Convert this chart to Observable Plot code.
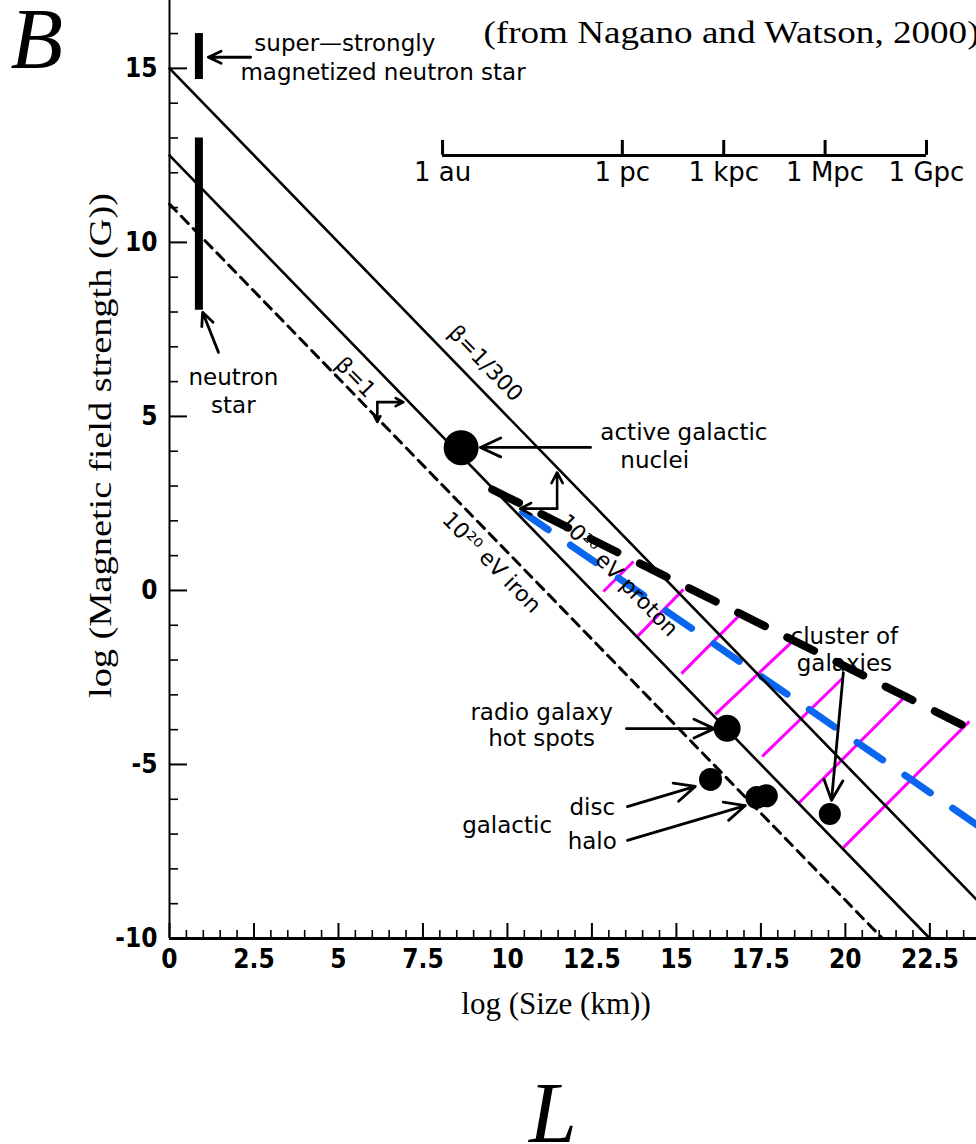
<!DOCTYPE html>
<html>
<head>
<meta charset="utf-8">
<script src="https://cdn.jsdelivr.net/npm/d3@7"></script>
<script src="https://cdn.jsdelivr.net/npm/@observablehq/plot@0.6"></script>
<style>
  html, body { margin: 0; padding: 0; background: #fff; }
  #chart svg { display: block; }
</style>
</head>
<body>
<div id="chart"></div>
<script>
// ---------- Axis ticks ----------
const xTickLabels = [0, 2.5, 5, 7.5, 10, 12.5, 15, 17.5, 20, 22.5];
const xMinorTicks = [0.5, 1, 1.5, 2, 3, 3.5, 4, 4.5, 5.5, 6, 6.5, 7, 8, 8.5, 9, 9.5, 10.5, 11, 11.5, 12,
  13, 13.5, 14, 14.5, 15.5, 16, 16.5, 17, 18, 18.5, 19, 19.5, 20.5, 21, 21.5, 22, 23, 23.5];
const yTickLabels = [-10, -5, 0, 5, 10, 15];
const yMinorTicks = [-9, -8, -7, -6, -4, -3, -2, -1, 1, 2, 3, 4, 6, 7, 8, 9, 11, 12, 13, 14, 16];

// ---------- Hillas boundary lines (endpoints) ----------
const upperSolidX = [0, 23.88];   // beta = 1/300, 1e20 eV proton
const upperSolidY = [15, -8.88];
const lowerSolidX = [0, 22.5];    // beta = 1, 1e20 eV proton
const lowerSolidY = [12.5, -10];
const ironDashX = [0, 21.1];      // beta = 1, 1e20 eV iron
const ironDashY = [11.1, -10];
const blackDashX = [9.55, 23.9];
const blackDashY = [2.9, -4.08];
const blueDashX = [10.45, 23.9];
const blueDashY = [2.25, -6.74];

// ---------- Magenta hatch segments ----------
const hatchX1 = [12.84, 13.85, 15.15, 16.15, 17.54, 18.61, 19.94];
const hatchY1 = [-0.03, -1.32, -2.39, -3.56, -4.77, -6.12, -7.39];
const hatchX2 = [13.73, 15.21, 16.98, 18.46, 19.91, 21.86, 23.67];
const hatchY2 = [0.83, 0.03, -0.60, -1.44, -2.53, -2.96, -3.76];

// ---------- Astrophysical objects ----------
const objNames = ["agn", "hotspot", "disc", "halo", "halo", "cluster"];
const objX = [8.63, 16.50, 16.01, 17.38, 17.66, 19.54];
const objY = [4.10, -3.96, -5.43, -5.95, -5.90, -6.42];

// Neutron star ranges (vertical bars)
const nsNames = ["neutron star", "super-strongly magnetized neutron star"];
const nsX = [0.87, 0.87];
const nsY1 = [8.05, 14.68];
const nsY2 = [13.0, 16.0];

// ---------- Pointer arrows ----------
const arrowX1 = [2.40, 1.45, 12.46, 13.52, 13.55, 13.55, 19.94];
const arrowY1 = [15.32, 6.84, 4.11, -3.97, -6.21, -7.18, -2.36];
const arrowX2 = [1.15, 0.98, 9.20, 16.12, 15.56, 17.04, 19.59];
const arrowY2 = [15.32, 7.99, 4.11, -3.97, -5.63, -6.18, -6.03];
// Perpendicular direction markers on the beta=1 and proton lines
const markX1 = [6.15, 6.15, 11.47, 11.47];
const markY1 = [5.41, 5.41, 2.35, 2.35];
const markX2 = [6.92, 6.15, 11.47, 10.38];
const markY2 = [5.41, 4.84, 3.39, 2.35];

// ---------- Labels ----------
const labelText = ["super\u2014strongly", "magnetized neutron star", "active galactic", "nuclei"];
const labelX = [2.51, 2.10, 12.75, 13.34];
const labelY = [15.72, 14.88, 4.53, 3.74];
const centeredText = ["neutron", "star", "radio galaxy", "hot spots", "galactic", "disc", "halo", "cluster of", "galaxies"];
const centeredX = [1.89, 1.89, 11.01, 11.01, 9.99, 12.51, 12.51, 19.97, 19.97];
const centeredY = [6.12, 5.31, -3.50, -4.25, -6.75, -6.23, -7.23, -1.32, -2.10];
const lineLabels = ["\u03b2=1/300", "\u03b2=1", "10\u00b2\u2070 eV proton", "10\u00b2\u2070 eV iron"];
const lineLabelX = [9.35, 5.50, 13.28, 9.53];
const lineLabelY = [6.52, 6.12, 0.43, 0.80];

// ---------- Length scale bar ----------
const scaleNames = ["1 au", "1 pc", "1 kpc", "1 Mpc", "1 Gpc"];
const scaleX = [8.08, 13.40, 16.40, 19.40, 22.40];
const scaleBarY = 12.5;
const scaleTickTop = 12.93;
const scaleLabelY = 12.0;

// ---------- Build tables ----------
const solidLines = [
  ...upperSolidX.map((x, i) => ({s: "upper", x, y: upperSolidY[i]})),
  ...lowerSolidX.map((x, i) => ({s: "lower", x, y: lowerSolidY[i]}))
];
const ironLine = ironDashX.map((x, i) => ({x, y: ironDashY[i]}));
const blackLine = blackDashX.map((x, i) => ({x, y: blackDashY[i]}));
const blueLine = blueDashX.map((x, i) => ({x, y: blueDashY[i]}));
const hatches = hatchX1.map((x1, i) => ({x1, y1: hatchY1[i], x2: hatchX2[i], y2: hatchY2[i]}));
const objects = objNames.map((n, i) => ({n, x: objX[i], y: objY[i]}));
const nsBars = nsNames.map((n, i) => ({n, x: nsX[i], y1: nsY1[i], y2: nsY2[i]}));
const arrows = arrowX1.map((x1, i) => ({x1, y1: arrowY1[i], x2: arrowX2[i], y2: arrowY2[i]}));
const markers = markX1.map((x1, i) => ({x1, y1: markY1[i], x2: markX2[i], y2: markY2[i]}));
const labels = labelText.map((t, i) => ({t, x: labelX[i], y: labelY[i]}));
const cLabels = centeredText.map((t, i) => ({t, x: centeredX[i], y: centeredY[i]}));
const lLabels = lineLabels.map((t, i) => ({t, x: lineLabelX[i], y: lineLabelY[i]}));
const scale = scaleNames.map((t, i) => ({t, x: scaleX[i]}));

const radius = {agn: 17.5, hotspot: 13.5, disc: 11.5, halo: 11.5, cluster: 11};

const W = 976, H = 1144, ML = 169, MB = 206;
const sans = "'DejaVu Sans', 'Open Sans', sans-serif";
const tickFont = "'Liberation Sans Narrow', 'DejaVu Sans Condensed', 'Liberation Sans', sans-serif";
const serif = "'Liberation Serif', 'DejaVu Serif', serif";
const citation = "(from Nagano and Watson, 2000)";
const yTitle = "log (Magnetic field strength (G))";

const chart = Plot.plot({
  width: W, height: H,
  marginLeft: ML, marginRight: 0, marginTop: 0, marginBottom: MB,
  x: {domain: [0, 23.88], axis: null},
  y: {domain: [-10, 16.95], axis: null},
  r: {type: "identity"},
  style: {background: "#fff", fontFamily: sans, color: "#000", overflow: "visible"},
  marks: [
    // hatch and added dashed lines
    Plot.link(hatches, {x1: "x1", y1: "y1", x2: "x2", y2: "y2", stroke: "#ff00ff", strokeWidth: 3}),
    Plot.line(blueLine, {x: "x", y: "y", stroke: "#0a66ee", strokeWidth: 7, strokeDasharray: "31,27"}),
    Plot.line(blackLine, {x: "x", y: "y", stroke: "#000", strokeWidth: 8, strokeDasharray: "30,25"}),
    // Hillas lines
    Plot.line(solidLines, {x: "x", y: "y", z: "s", stroke: "#000", strokeWidth: 2.6}),
    Plot.line(ironLine, {x: "x", y: "y", stroke: "#000", strokeWidth: 3, strokeDasharray: "10,7"}),
    // neutron star bars
    Plot.ruleX(nsBars, {x: "x", y1: "y1", y2: "y2", stroke: "#000", strokeWidth: 8}),
    // objects
    Plot.dot(objects, {x: "x", y: "y", r: d => radius[d.n], fill: "#000", stroke: "none"}),
    // arrows
    Plot.arrow(arrows, {x1: "x1", y1: "y1", x2: "x2", y2: "y2", stroke: "#000", strokeWidth: 2.8, headLength: 12, headAngle: 50}),
    Plot.arrow(markers, {x1: "x1", y1: "y1", x2: "x2", y2: "y2", stroke: "#000", strokeWidth: 2.6, headLength: 9, headAngle: 55}),
    // labels
    Plot.text(labels, {x: "x", y: "y", text: "t", textAnchor: "start", fontSize: 23, fill: "#000"}),
    Plot.text(cLabels, {x: "x", y: "y", text: "t", textAnchor: "middle", fontSize: 23, fill: "#000"}),
    Plot.text(lLabels, {x: "x", y: "y", text: "t", rotate: 45.8, textAnchor: "middle", fontSize: 22, fill: "#000"}),
    // scale bar
    Plot.ruleY([scaleBarY], {x1: scaleX[0], x2: scaleX[scaleX.length - 1], stroke: "#000", strokeWidth: 3}),
    Plot.ruleX(scale, {x: "x", y1: scaleBarY, y2: scaleTickTop, stroke: "#000", strokeWidth: 3}),
    Plot.text(scale, {x: "x", y: scaleLabelY, text: "t", fontSize: 26, fill: "#000"}),
    // axes: lines
    Plot.ruleX([0], {stroke: "#000", strokeWidth: 2}),
    Plot.ruleY([-10], {stroke: "#000", strokeWidth: 3}),
    // axes: inward ticks
    Plot.tickX(xMinorTicks, {x: d => d, insetTop: (H - MB) - 8, stroke: "#000", strokeWidth: 1.6}),
    Plot.tickX(xTickLabels, {x: d => d, insetTop: (H - MB) - 15, stroke: "#000", strokeWidth: 2}),
    Plot.tickY(yMinorTicks, {y: d => d, insetRight: (W - ML) - 9, stroke: "#000", strokeWidth: 1.6}),
    Plot.tickY(yTickLabels, {y: d => d, insetRight: (W - ML) - 18, stroke: "#000", strokeWidth: 2}),
    // axes: tick labels
    Plot.axisX(xTickLabels, {tickSize: 0, tickPadding: 11, tickFormat: d => String(d), fontSize: 26, fontWeight: "bold", fontFamily: tickFont, label: null}),
    Plot.axisY(yTickLabels, {tickSize: 0, tickPadding: 12, tickFormat: d => String(d), fontSize: 26, fontWeight: "bold", fontFamily: tickFont, label: null}),
    // axis titles
    Plot.text(["log (Size (km))"], {frameAnchor: "bottom", textAnchor: "middle", dx: -17, dy: 75, fontSize: 31, fontFamily: serif, fill: "#000"}),
    Plot.text([yTitle], {frameAnchor: "left", textAnchor: "middle", dx: -69, dy: -24, rotate: -90, fontSize: 32, fontFamily: serif, fill: "#000"}),
    // panel letters and citation
    Plot.text(["B"], {frameAnchor: "top-left", dx: -159, dy: 67, textAnchor: "start", lineAnchor: "bottom", fontSize: 86, fontStyle: "italic", fontFamily: serif, fill: "#000"}),
    Plot.text(["L"], {frameAnchor: "bottom", textAnchor: "middle", dx: -20, dy: 203, lineAnchor: "bottom", fontSize: 86, fontStyle: "italic", fontFamily: serif, fill: "#000"}),
    Plot.text([citation], {frameAnchor: "top-left", dx: 314, dy: 42, textAnchor: "start", lineAnchor: "bottom", fontSize: 32, fontFamily: serif, fill: "#000"})
  ]
});

// Stretch the serif texts to the widths they take in the original scan
d3.select(chart).selectAll("text")
  .filter(function() { return this.textContent === citation; })
  .attr("textLength", 496).attr("lengthAdjust", "spacingAndGlyphs");
d3.select(chart).selectAll("text")
  .filter(function() { return this.textContent === yTitle; })
  .attr("textLength", 505).attr("lengthAdjust", "spacingAndGlyphs");

document.getElementById("chart").appendChild(chart);
</script>
</body>
</html>
